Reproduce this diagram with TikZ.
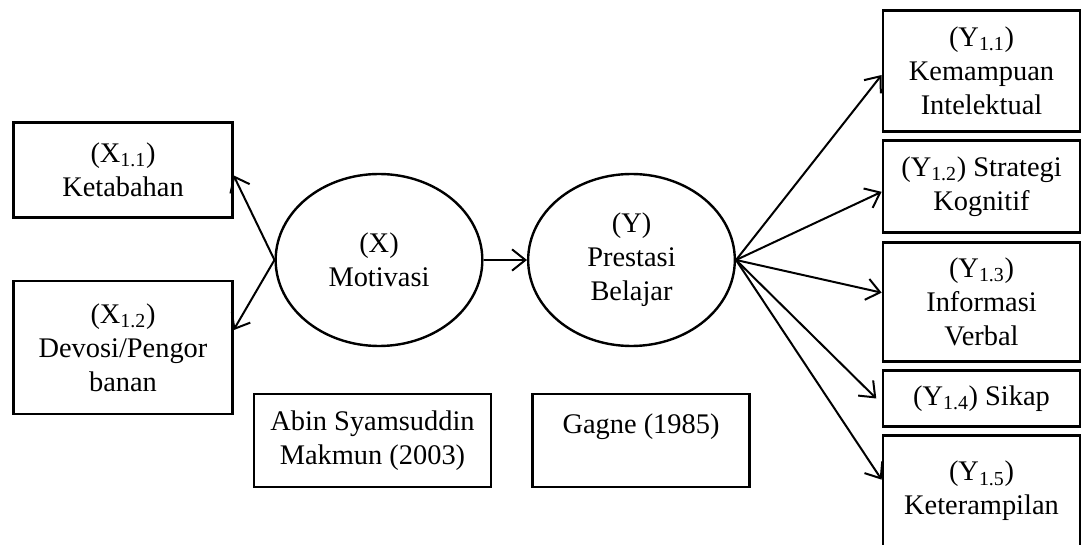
\documentclass[tikz,border=0pt]{standalone}
\usepackage{fontspec}
\setmainfont{Liberation Serif}
\usetikzlibrary{arrows.meta,shapes.geometric}

\tikzset{
  kotak/.style={draw, line width=1.8pt, rectangle, align=center, inner sep=2pt},
  elips/.style={draw, line width=1.8pt, ellipse, align=center, inner sep=0pt,
                minimum width=155pt, minimum height=129pt},
  panah/.style={line width=1.5pt, -{Straight Barb[length=10pt,width=16pt,line width=1.5pt]}}
}

\begin{document}
\begin{tikzpicture}[x=0.75pt,y=-0.75pt,font=\fontsize{21.3}{25.5}\selectfont]
            \clip (0,0) rectangle (1083,545);

            % Variabel X
            \node (x11) at (123,170)[kotak, minimum width=164pt, minimum height=71pt]{(X\textsubscript{1.1})\\Ketabahan};
            \node (x12) at (123,347.5)[kotak, minimum width=164pt, minimum height=100pt]{(X\textsubscript{1.2})\\Devosi/Pengor\\banan};
            \node (mx) at (379,260)[elips]{(X)\\Motivasi};

            % Variabel Y
            \node (my) at (631.5,260)[elips]{(Y)\\Prestasi\\Belajar};
            \node (y11) at (981.5,71)[kotak, minimum width=148pt, minimum height=90.5pt]{(Y\textsubscript{1.1})\\Kemampuan\\Intelektual};
            \node (y12) at (981.5,186.5)[kotak, minimum width=148pt, minimum height=69pt]{(Y\textsubscript{1.2}) Strategi\\Kognitif};
            \node (y13) at (981.5,302)[kotak, minimum width=148pt, minimum height=89pt]{(Y\textsubscript{1.3})\\Informasi\\Verbal};
            \node (y14) at (981.5,398.5)[kotak, minimum width=148pt, minimum height=42pt]{(Y\textsubscript{1.4}) Sikap};
            \node (y15) at (981.5,505)[kotak, minimum width=148pt, minimum height=104pt]{(Y\textsubscript{1.5})\\Keterampilan\\\mbox{}};

            % Sumber
            \node (abin) at (372.5,440.5)[kotak, minimum width=178pt, minimum height=70pt]{Abin Syamsuddin\\Makmun (2003)};
            \node (gagne) at (641,440.5)[kotak, minimum width=162.5pt, minimum height=70pt]{Gagne (1985)\\\mbox{}};

            % Panah
            \draw[panah] (mx.west) -- ([yshift=-4pt]x11.east);
            \draw[panah] (mx.west) -- ([yshift=13pt]x12.east);
            \draw[panah] (mx.east) -- (my.west);
            \draw[panah] (my.east) -- ([yshift=-3pt]y11.west);
            \draw[panah] (my.east) -- ([yshift=-4pt]y12.west);
            \draw[panah] (my.east) -- ([yshift=7pt]y13.west);
            \draw[panah] (my.east) -- ([xshift=-4pt]y14.west);
            \draw[panah] (my.east) -- ([yshift=19pt]y15.west);

      \end{tikzpicture}
\end{document}
